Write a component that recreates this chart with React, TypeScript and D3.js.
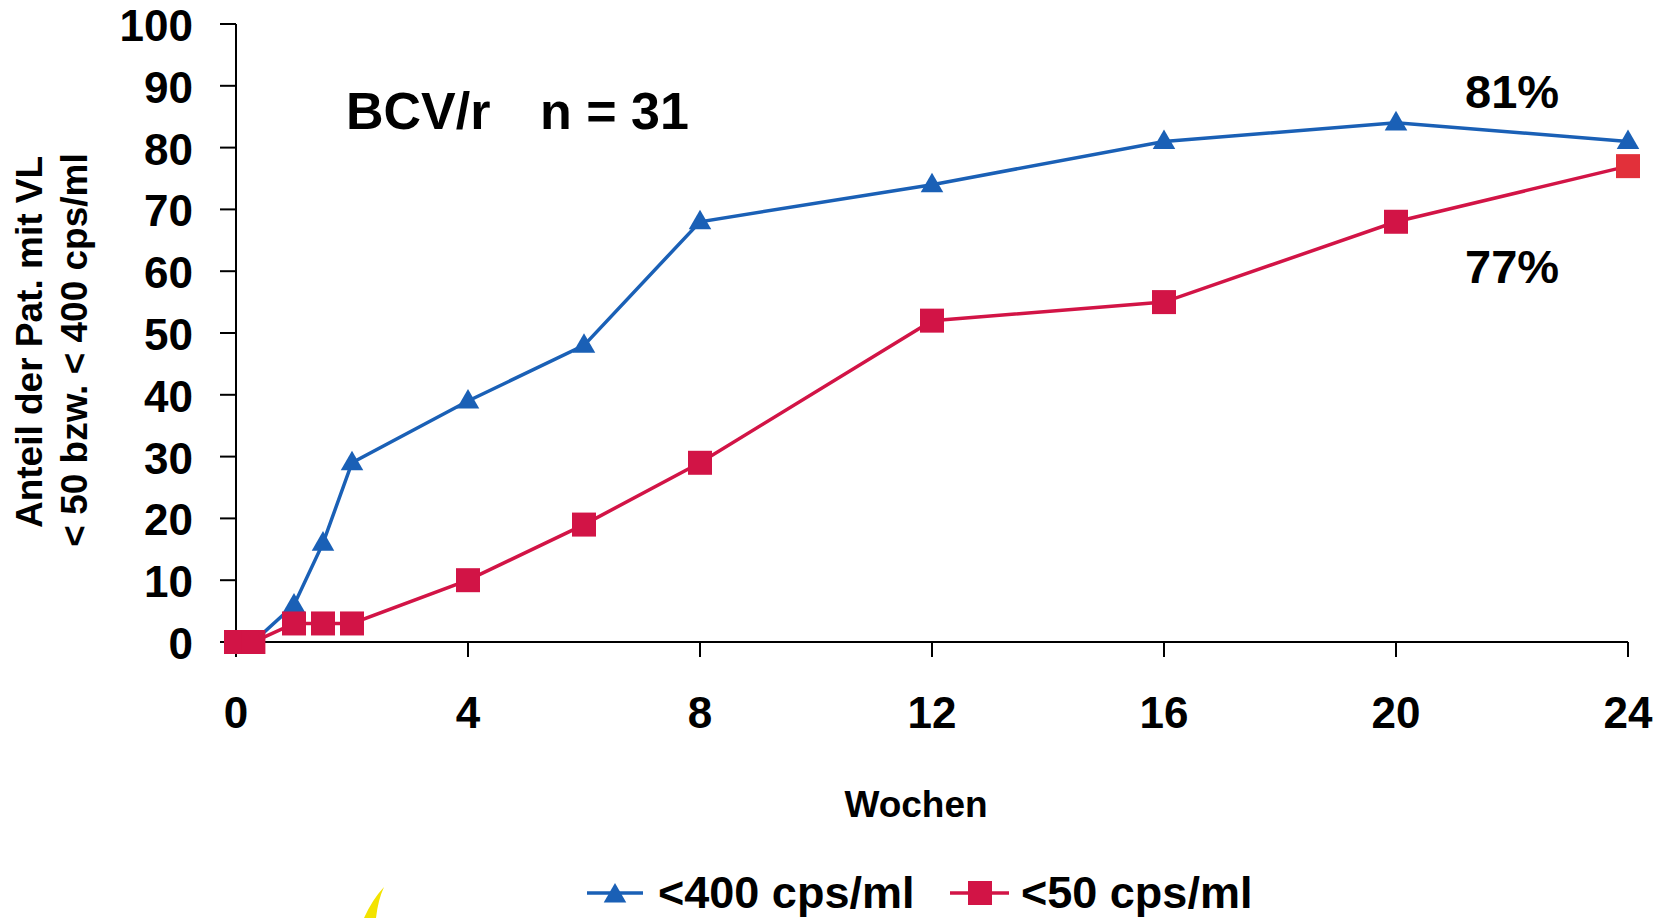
import React from "react";
import * as d3 from "d3";

const weeks = [0, 0.3, 1, 1.5, 2, 4, 6, 8, 12, 16, 20, 24];
const below400 = [0, 0, 6, 16, 29, 39, 48, 68, 74, 81, 84, 81];
const below50 = [0, 0, 3, 3, 3, 10, 19, 29, 52, 55, 68, 77];
const xTicks = [0, 4, 8, 12, 16, 20, 24];
const yTicks = [0, 10, 20, 30, 40, 50, 60, 70, 80, 90, 100];
const seriesNames = ["<400 cps/ml", "<50 cps/ml"];

const W = 1661;
const H = 918;
const BLUE = "#1a60b6";
const RED = "#d21446";
const RED_LAST = "#e2303a";
const FONT = "'Liberation Sans', Arial, Helvetica, sans-serif";

export default function App() {
  const x = d3.scaleLinear().domain([0, 24]).range([236, 1628]);
  const y = d3.scaleLinear().domain([0, 100]).range([642, 24]);
  const line = d3
    .line<number>()
    .x((_, i) => x(weeks[i]))
    .y((d) => y(d));
  const tri = d3.symbol().type(d3.symbolTriangle).size(220)();

  return (
    <svg
      width={W}
      height={H}
      style={{ position: "fixed", left: 0, top: 0, background: "#fff" }}
      fontFamily={FONT}
      fontWeight="bold"
    >
      <rect x={0} y={0} width={W} height={H} fill="#fff" />
      {/* axes */}
      <line x1={x(0)} x2={x(0)} y1={y(100)} y2={y(0)} stroke="#000" strokeWidth={2} />
      <line x1={x(0)} x2={x(24)} y1={y(0)} y2={y(0)} stroke="#000" strokeWidth={2} />
      {yTicks.map((t) => (
        <g key={"y" + t}>
          <line x1={x(0) - 16} x2={x(0)} y1={y(t)} y2={y(t)} stroke="#000" strokeWidth={2} />
          <text x={193} y={y(t) + 17} textAnchor="end" fontSize={44}>
            {t}
          </text>
        </g>
      ))}
      {xTicks.map((t) => (
        <g key={"x" + t}>
          <line x1={x(t)} x2={x(t)} y1={y(0)} y2={y(0) + 15} stroke="#000" strokeWidth={2} />
          <text x={x(t)} y={728} textAnchor="middle" fontSize={44}>
            {t}
          </text>
        </g>
      ))}
      {/* axis titles */}
      <text transform="translate(42,342) rotate(-90)" textAnchor="middle" fontSize={37}>
        Anteil der Pat. mit VL
      </text>
      <text transform="translate(87,350) rotate(-90)" textAnchor="middle" fontSize={37}>
        {"< 50 bzw. < 400 cps/ml"}
      </text>
      <text x={916} y={817} textAnchor="middle" fontSize={37}>
        Wochen
      </text>
      {/* annotations */}
      <text x={346} y={129} fontSize={52}>
        BCV/r
      </text>
      <text x={540} y={129} fontSize={52}>
        n = 31
      </text>
      <text x={1465} y={108} fontSize={47}>
        81%
      </text>
      <text x={1465} y={283} fontSize={47}>
        77%
      </text>
      {/* blue series */}
      <path d={line(below400) || ""} fill="none" stroke={BLUE} strokeWidth={3.5} />
      {below400.map((v, i) => (
        <path key={"b" + i} d={tri || ""} transform={`translate(${x(weeks[i])},${y(v) + 1})`} fill={BLUE} />
      ))}
      {/* red series */}
      <path d={line(below50) || ""} fill="none" stroke={RED} strokeWidth={3.5} />
      {below50.map((v, i) => (
        <rect
          key={"r" + i}
          x={x(weeks[i]) - 12}
          y={y(v) - 12}
          width={24}
          height={24}
          fill={i === below50.length - 1 ? RED_LAST : RED}
        />
      ))}
      {/* legend */}
      <line x1={587} x2={643} y1={893} y2={893} stroke={BLUE} strokeWidth={3.5} />
      <path d={tri || ""} transform="translate(615,896)" fill={BLUE} />
      <text x={658} y={908} fontSize={45}>
        {seriesNames[0]}
      </text>
      <line x1={950} x2={1009} y1={893} y2={893} stroke={RED} strokeWidth={3.5} />
      <rect x={968} y={881} width={24} height={24} fill={RED} />
      <text x={1021} y={908} fontSize={45}>
        {seriesNames[1]}
      </text>
      {/* yellow sliver (logo fragment) */}
      <path d="M384,887 Q378,900 376,918 L364,918 Q372,900 384,887 Z" fill="#f3e300" />
    </svg>
  );
}
